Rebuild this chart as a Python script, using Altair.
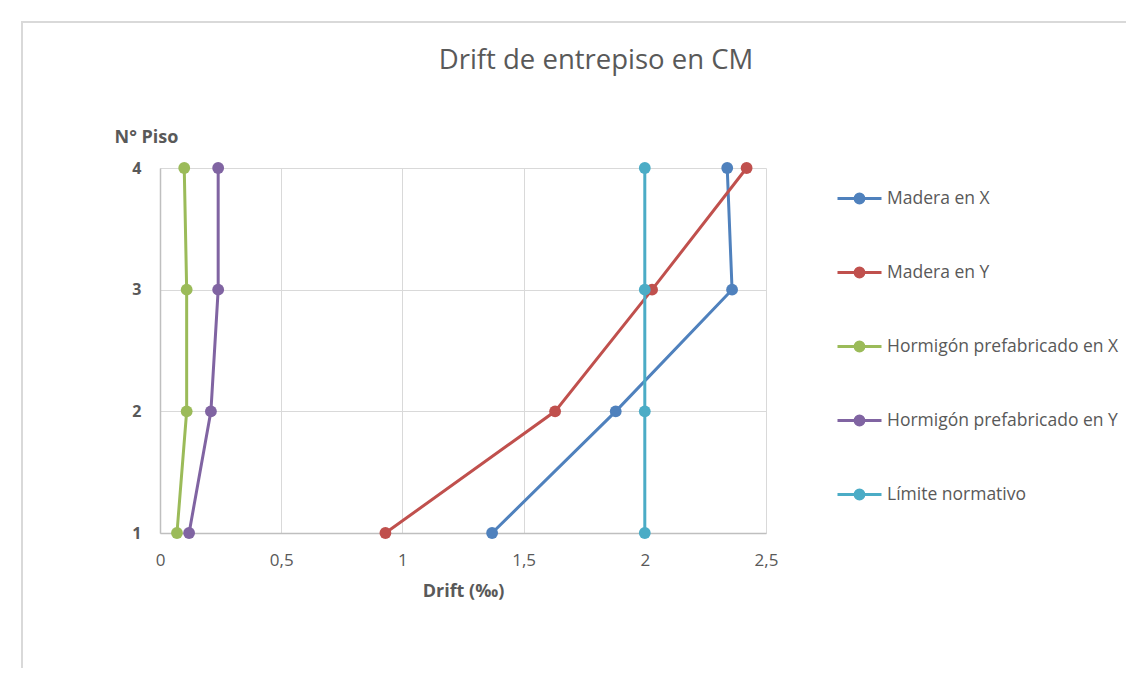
import altair as alt
import pandas as pd

pisos = [1, 2, 3, 4]
series_names = [
    "Madera en X",
    "Madera en Y",
    "Hormigón prefabricado en X",
    "Hormigón prefabricado en Y",
    "Límite normativo",
]
madera_x = [1.37, 1.88, 2.36, 2.34]
madera_y = [0.93, 1.63, 2.03, 2.42]
horm_x = [0.07, 0.11, 0.11, 0.10]
horm_y = [0.12, 0.21, 0.24, 0.24]
limite = [2.0, 2.0, 2.0, 2.0]
colors = ["#4F81BD", "#C0504D", "#9BBB59", "#8064A2", "#4BACC6"]
x_ticks = [0, 0.5, 1, 1.5, 2, 2.5]

values = [madera_x, madera_y, horm_x, horm_y, limite]
rows = []
for name, vals in zip(series_names, values):
    for p, v in zip(pisos, vals):
        rows.append({"serie": name, "piso": p, "drift": v})
df = pd.DataFrame(rows)

TEXT = "#595959"
FONT = "Open Sans"

color = alt.Color(
    "serie:N",
    scale=alt.Scale(domain=series_names, range=colors),
    legend=alt.Legend(
        title=None,
        orient="none",
        legendX=676,
        legendY=7,
        padding=0,
        symbolType=(
            "M-1,0H1"
            "M-0.055,0a0.055,0.055 0 1,0 0.11,0a0.055,0.055 0 1,0 -0.11,0"
            "M-0.125,0a0.125,0.125 0 1,0 0.25,0a0.125,0.125 0 1,0 -0.25,0"
            "M-0.2,0a0.2,0.2 0 1,0 0.4,0a0.2,0.2 0 1,0 -0.4,0"
        ),
        symbolSize=1936,
        symbolStrokeWidth=3,
        labelFont=FONT,
        labelFontSize=17.5,
        labelColor=TEXT,
        labelOffset=4,
        rowPadding=40,
        labelLimit=400,
    ),
)

x_enc = alt.X(
    "drift:Q",
    scale=alt.Scale(domain=[0, 2.5], nice=False),
    axis=alt.Axis(
        title="Drift (‰)",
        values=x_ticks,
        labelExpr="replace(toString(datum.value), '.', ',')",
        ticks=False,
        labelFlush=False,
        labelPadding=19,
        labelBaseline="top",
        labelFontSize=17,
        grid=True,
        titleX=303,
        titleY=58,
        titleBaseline="middle",
        titleAlign="center",
    ),
)
y_enc = alt.Y(
    "piso:Q",
    scale=alt.Scale(domain=[1, 4], nice=False, zero=False),
    axis=alt.Axis(
        title="N° Piso",
        values=pisos,
        format="d",
        ticks=False,
        labelFlush=False,
        labelPadding=19,
        labelFontWeight="bold",
        labelFontSize=16,
        grid=True,
        titleAngle=0,
        titleX=-14,
        titleY=-31,
        titleAlign="center",
        titleBaseline="middle",
    ),
)

frame = alt.Chart(pd.DataFrame({"a": [0]})).mark_rect(
    fill="transparent", stroke="#d9d9d9", strokeWidth=2
).encode(
    x=alt.value(-138), x2=alt.value(1500), y=alt.value(-146), y2=alt.value(1000)
)

layers = [frame]
for name in series_names:
    base = alt.Chart(df).transform_filter(alt.datum.serie == name)
    line = base.mark_line(strokeWidth=3).encode(
        x=x_enc, y=y_enc, color=color, order=alt.Order("piso:Q")
    )
    pts = base.mark_circle(size=140, opacity=1).encode(x=x_enc, y=y_enc, color=color)
    layers += [line, pts]

chart = alt.layer(*layers).properties(
    width=606,
    height=365,
    autosize=alt.AutoSizeParams(type="none"),
    padding={"left": 152, "top": 160, "right": 360, "bottom": 135},
    title=alt.TitleParams(
        "Drift de entrepiso en CM",
        font=FONT,
        fontSize=27.5,
        fontWeight="normal",
        color=TEXT,
        anchor="middle",
        dx=133,
        offset=-53,
    ),
).configure_view(stroke=None).configure_axis(
    labelFont=FONT,
    labelFontSize=15,
    labelColor=TEXT,
    titleFont=FONT,
    titleFontSize=18,
    titleFontWeight="bold",
    titleColor=TEXT,
    gridColor="#d9d9d9",
    gridWidth=1,
    domainColor="#bfbfbf",
    domainWidth=1.5,
)

chart.save("out.html", embed_options={"renderer": "svg", "actions": False})
